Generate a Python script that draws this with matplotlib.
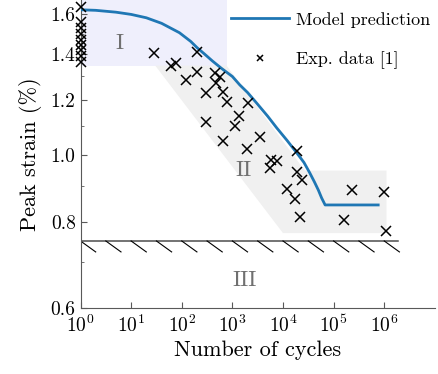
import numpy as np
import matplotlib
matplotlib.use("Agg")
import matplotlib.pyplot as plt
from matplotlib.ticker import NullFormatter

plt.rcParams["font.family"] = "serif"
plt.rcParams["font.serif"] = ["cmr10"]
plt.rcParams["mathtext.fontset"] = "cm"
plt.rcParams["axes.formatter.use_mathtext"] = True
plt.rcParams["axes.unicode_minus"] = False

# experimental peak strain vs. number of cycles
exp_cycles = [1, 1, 1, 1, 1, 1, 1, 1, 1,
              28, 60, 77, 121, 197, 197, 300, 300, 460, 470, 570, 650, 640, 770,
              1120, 1370, 1910, 2060, 3450, 5600, 5700, 7500, 12100, 17200,
              18500, 18500, 21600, 23300, 1.6e5, 2.3e5, 9.8e5, 1.1e6]
exp_strain = [1.64, 1.56, 1.53, 1.50, 1.47, 1.445, 1.42, 1.39, 1.365,
              1.405, 1.348, 1.362, 1.285, 1.413, 1.321, 1.232, 1.118, 1.317, 1.270, 1.299, 1.233, 1.049, 1.195,
              1.102, 1.139, 1.019, 1.191, 1.062, 0.956, 0.983, 0.981, 0.892, 0.863,
              1.012, 0.946, 0.812, 0.920, 0.804, 0.888, 0.883, 0.776]

# model prediction
model_cycles = [1, 2, 5, 10, 20, 40, 90, 150, 200, 280, 400, 600, 1000, 1400, 2000, 3000,
                5000, 7500, 12000, 18500, 26000, 34000, 42000, 50000, 58000, 68000, 7.6e5]
model_strain = [1.625, 1.622, 1.612, 1.600, 1.582, 1.553, 1.505, 1.462, 1.432, 1.402, 1.370, 1.337,
                1.300, 1.264, 1.232, 1.190, 1.138, 1.095, 1.050, 1.008, 0.975, 0.941, 0.913, 0.889,
                0.866, 0.846, 0.846]

# regions
region1_x = [1, 770, 770, 1]
region1_y = [1.348, 1.348, 1.70, 1.70]
region2_x = [30, 770, 2.7e4, 1.11e6, 1.11e6, 1.0e4]
region2_y = [1.348, 1.348, 0.949, 0.949, 0.770, 0.770]
limit_strain = 0.75
limit_end = 1.9e6

fig = plt.figure(figsize=(4.38, 3.74), dpi=100)
ax = fig.add_axes([0.1838, 0.1773, 0.809, 0.8227])
ax.set_xscale("log")
ax.set_yscale("log")

ax.fill(region1_x, region1_y, color="#efeffc", lw=0, zorder=0)
ax.fill(region2_x, region2_y, color="#f0f0f0", lw=0, zorder=0)

# lower limit with hatch strokes
ax.plot([1, limit_end], [limit_strain, limit_strain], color="0.3", lw=1.1, zorder=1)
for k in range(13):
    x0 = 10 ** (k / 2)
    ax.plot([x0, x0 * 10 ** 0.3], [limit_strain, limit_strain * 0.964], color="black", lw=0.8, zorder=1)

ax.plot(model_cycles, model_strain, color="#1f77b4", lw=2.0, label="Model prediction", zorder=3)
ax.plot(exp_cycles, exp_strain, "x", color="black", ms=7, mew=1.1, label="Exp. data [1]", zorder=4, clip_on=False)

ax.text(6, 1.454, "I", color="#707070", fontsize=16, ha="center", va="center")
ax.text(1640, 0.951, "II", color="#707070", fontsize=16, ha="center", va="center")
ax.text(1715, 0.658, "III", color="#707070", fontsize=16, ha="center", va="center")

ax.set_xlim(1, 1e7)
ax.set_ylim(0.6, 1.679)
ax.set_xticks([10.0 ** i for i in range(7)])
ax.set_yticks([0.6, 0.8, 1.0, 1.2, 1.4, 1.6])
ax.set_yticklabels(["0.6", "0.8", "1.0", "1.2", "1.4", "1.6"])
ax.set_yticks([0.7, 0.9, 1.1, 1.3, 1.5], minor=True)
ax.yaxis.set_minor_formatter(NullFormatter())
ax.tick_params(which="both", direction="in", labelsize=14, color="0.35")
ax.tick_params(axis="x", pad=5)
ax.tick_params(which="major", length=4)
ax.tick_params(which="minor", length=2)
for side in ["top", "right"]:
    ax.spines[side].set_visible(False)
for side in ["left", "bottom"]:
    ax.spines[side].set_color("0.35")

ax.set_xlabel("Number of cycles", fontsize=16, labelpad=3)
ax.set_ylabel("Peak strain (%)", fontsize=16, labelpad=6)

ax.legend(loc="upper left", bbox_to_anchor=(0.49, 1.012), bbox_transform=fig.transFigure,
          frameon=False, fontsize=13, handlelength=3.2, labelspacing=1.3,
          markerscale=0.6, handletextpad=0.4)

fig.savefig("out.png", dpi=100)
